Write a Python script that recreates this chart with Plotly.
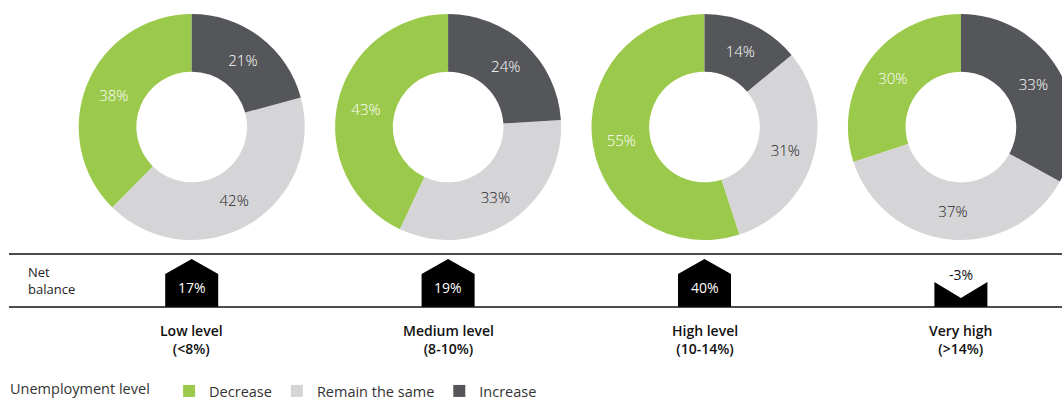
import plotly.graph_objects as go

# ---------------- data ----------------
categories = ["Low level<br>(<8%)", "Medium level<br>(8-10%)", "High level<br>(10-14%)", "Very high<br>(>14%)"]
slice_labels = ["Decrease", "Remain the same", "Increase"]
decrease = [38, 43, 55, 30]
remain_same = [42, 33, 31, 37]
increase = [21, 24, 14, 33]
net_balance = [17, 19, 40, -3]
legend_title = "Unemployment level"
row_label = "Net<br>balance"

# ---------------- style / layout constants ----------------
OFF = 0                      # page margin (removed below)
W, H = 1078, 398             # figure size; the right-most donut is cropped by the window
FONT = "Open Sans"
COLORS = ["#9BC94B", "#D5D5D7", "#55565A"]
TEXT_COLORS = ["#FFFFFF", "#222222", "#FFFFFF"]
C0, STEP = 191.7, 256.4      # screen-pixel centre of first column, column spacing
R = 113                       # donut outer radius (px)
DONUT_CY = 127                # donut centre y (screen px)
LINE_TOP, LINE_BOT = 254, 307
ARROW_HW = 26.5 / STEP        # half width of arrow in category units


def px_x(sx):
    return (sx - OFF) / W


def px_y(sy):
    return 1 - (sy - OFF) / H


fig = go.Figure()

# donuts: ring read clockwise from 12 o'clock = Increase, Remain, Decrease
for i, cat in enumerate(categories):
    vals = [decrease[i], remain_same[i], increase[i]]
    cx = C0 + STEP * i
    fig.add_trace(go.Pie(
        labels=slice_labels,
        values=vals,
        sort=False,
        direction="counterclockwise",
        rotation=-360.0 * decrease[i] / sum(vals),
        hole=0.49,
        marker=dict(colors=COLORS, line=dict(width=0)),
        texttemplate="%{value}%",
        textposition="inside",
        insidetextorientation="horizontal",
        textfont=dict(family=FONT, size=15, color=TEXT_COLORS, weight=300),
        hoverinfo="label+value",
        domain=dict(x=[px_x(cx - R), min(1, px_x(cx + R))],
                    y=[px_y(DONUT_CY + R), px_y(DONUT_CY - R)]),
        showlegend=(i == 0),
    ))

# net balance arrows
for i, v in enumerate(net_balance):
    if v >= 0:
        ys = [LINE_BOT, 274, 259, 274, LINE_BOT, LINE_BOT]
    else:
        ys = [LINE_BOT, 282, 298, 282, LINE_BOT, LINE_BOT]
    xs = [i - ARROW_HW, i - ARROW_HW, i, i + ARROW_HW, i + ARROW_HW, i - ARROW_HW]
    fig.add_trace(go.Scatter(
        x=xs, y=ys, mode="lines", fill="toself", fillcolor="#000000",
        line=dict(width=0, color="#000000"), showlegend=False, hoverinfo="skip",
    ))
    fig.add_annotation(
        x=i, y=287.5 if v >= 0 else 274, xref="x", yref="y",
        text=f"{v}%", showarrow=False,
        font=dict(family=FONT, size=14, color="#FFFFFF" if v >= 0 else "#111111"),
    )
    fig.add_annotation(
        x=i, y=339, xref="x", yref="y", text=categories[i],
        showarrow=False, align="center",
        font=dict(family=FONT, size=14, color="#111111", weight=600),
    )

# row label
fig.add_annotation(
    x=px_x(26), y=280, xref="paper", yref="y", xanchor="left", yanchor="middle",
    text=row_label, showarrow=False, align="left",
    font=dict(family=FONT, size=13, color="#222222"),
)

# horizontal rules
for yy in (LINE_TOP, LINE_BOT):
    fig.add_shape(type="line", xref="paper", yref="y", x0=px_x(9), x1=1, y0=yy, y1=yy,
                  line=dict(color="#111111", width=1.6))

fig.update_layout(
    width=W, height=H,
    margin=dict(l=0, r=0, t=0, b=0, autoexpand=False),
    paper_bgcolor="white", plot_bgcolor="rgba(0,0,0,0)",
    font=dict(family=FONT, size=14, color="#333333"),
    xaxis=dict(visible=False, range=[(OFF - C0) / STEP, (W + OFF - C0) / STEP], fixedrange=True),
    yaxis=dict(visible=False, range=[H + OFF, OFF], fixedrange=True),
    legend=dict(
        orientation="h", x=px_x(8), xanchor="left", y=px_y(375), yanchor="top",
        title=dict(text=legend_title + "   ", side="left",
                   font=dict(family=FONT, size=14.5, color="#333333")),
        font=dict(family=FONT, size=14.5, color="#333333"),
        itemwidth=30, bgcolor="rgba(0,0,0,0)",
    ),
)

fig.write_html(
    "out.html",
    config={"displayModeBar": False},
    post_script=(
        "document.documentElement.style.margin='0';"
        "document.body.style.margin='0';"
        "document.documentElement.style.overflow='hidden';"
        "document.body.style.overflow='hidden';"
    ),
)
